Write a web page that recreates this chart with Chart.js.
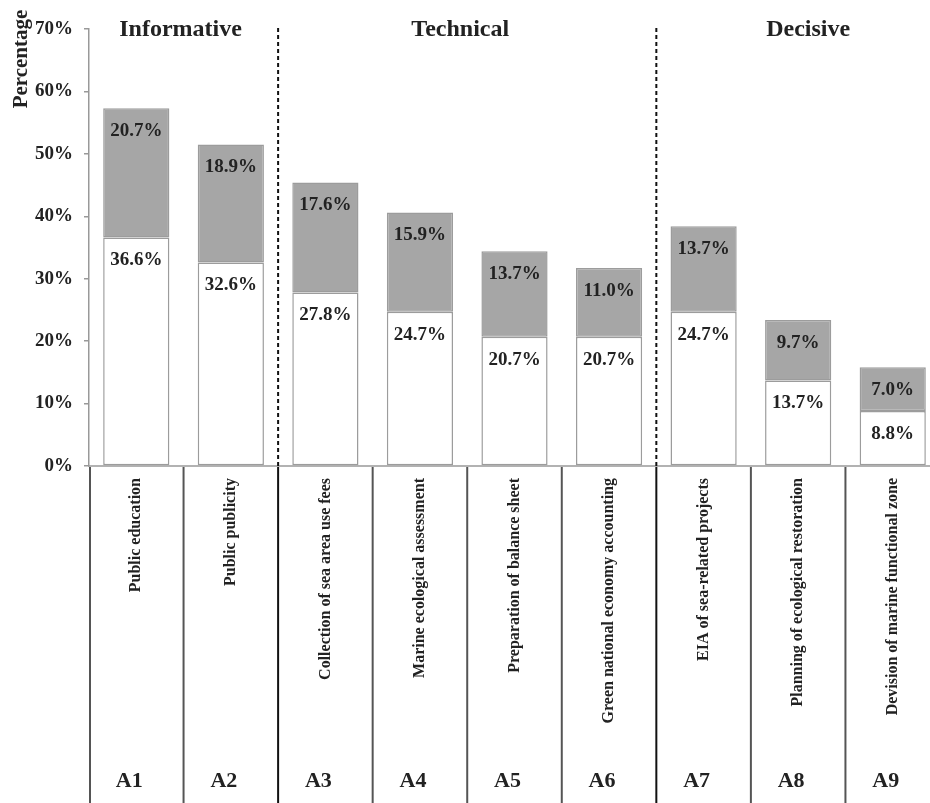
<!DOCTYPE html>
<html>
<head>
<meta charset="utf-8">
<script src="https://cdn.jsdelivr.net/npm/chart.js"></script>
<style>
    html, body { margin: 0; padding: 0; background: #fff; overflow: hidden; }
    #wrap { width: 942px; height: 803px; }
</style>
</head>
<body>
<div id="wrap"><canvas id="chart" width="942" height="803"></canvas></div>
<script>
// Kategorien und Werte (Prozent)
const codes = ['A1', 'A2', 'A3', 'A4', 'A5', 'A6', 'A7', 'A8', 'A9'];
const names = [
    'Public education',
    'Public publicity',
    'Collection of sea area use fees',
    'Marine ecological assessment',
    'Preparation of balance sheet',
    'Green national economy accounting',
    'EIA of sea-related projects',
    'Planning of ecological restoration',
    'Devision of marine functional zone'
];
const lowerValues = [36.6, 32.6, 27.8, 24.7, 20.7, 20.7, 24.7, 13.7, 8.8];
const upperValues = [20.7, 18.9, 17.6, 15.9, 13.7, 11.0, 13.7, 9.7, 7.0];
// Gruppen: Name, erste und letzte Kategorie
const groupNames = ['Informative', 'Technical', 'Decisive'];
const groupStart = [0, 2, 6];
const groupEnd = [1, 5, 8];
const yTicks = [0, 10, 20, 30, 40, 50, 60, 70];

const serif = '"Liberation Serif", "Times New Roman", serif';
const tableBottom = 803;
const groupShift = [-3, -7, 10];

// Beschriftungen, Gruppen, Trennlinien und Tabelle unter der Achse
const extras = {
    id: 'extras',
    afterDatasetsDraw(chart) {
        const ctx = chart.ctx;
        const x = chart.scales.x;
        const area = chart.chartArea;
        ctx.save();

        // Werte in den Balken
        ctx.fillStyle = '#222';
        ctx.font = 'bold 19px ' + serif;
        ctx.textAlign = 'center';
        ctx.textBaseline = 'middle';
        chart.data.datasets.forEach((ds, i) => {
            chart.getDatasetMeta(i).data.forEach((el, j) => {
                const top = Math.min(el.y, el.base);
                ctx.fillText(ds.data[j].toFixed(1) + '%', el.x, top + 23);
            });
        });

        // x-Achse
        ctx.strokeStyle = '#999';
        ctx.lineWidth = 1.5;
        ctx.beginPath();
        ctx.moveTo(area.left - 1, area.bottom);
        ctx.lineTo(chart.width, area.bottom);
        ctx.stroke();

        // Tabellenlinien
        for (let i = 0; i < codes.length; i++) {
            const bx = i === 0 ? area.left + 1 : x.getPixelForValue(i - 0.5);
            const isGroupEdge = groupStart.includes(i) && i > 0;
            ctx.strokeStyle = isGroupEdge ? '#111' : '#555';
            ctx.lineWidth = 2;
            ctx.beginPath();
            ctx.moveTo(bx, area.bottom + 1);
            ctx.lineTo(bx, tableBottom);
            ctx.stroke();
        }

        // gestrichelte Gruppentrenner
        ctx.strokeStyle = '#111';
        ctx.lineWidth = 2;
        ctx.setLineDash([4, 3]);
        for (let g = 1; g < groupStart.length; g++) {
            const bx = x.getPixelForValue(groupStart[g] - 0.5);
            ctx.beginPath();
            ctx.moveTo(bx, area.top - 1);
            ctx.lineTo(bx, area.bottom);
            ctx.stroke();
        }
        ctx.setLineDash([]);

        // Gruppennamen
        ctx.fillStyle = '#222';
        ctx.font = 'bold 24px ' + serif;
        groupNames.forEach((g, i) => {
            const cx = (x.getPixelForValue(groupStart[i] - 0.5) + x.getPixelForValue(groupEnd[i] + 0.5)) / 2;
            ctx.fillText(g, cx + groupShift[i], area.top + 1);
        });

        // senkrechte Namen in der Tabelle
        ctx.font = 'bold 16px ' + serif;
        ctx.textAlign = 'right';
        names.forEach((n, i) => {
            ctx.save();
            ctx.translate(x.getPixelForValue(i), area.bottom + 12);
            ctx.rotate(-Math.PI / 2);
            ctx.fillText(n, 0, 0);
            ctx.restore();
        });

        // Codes A1..A9
        ctx.textAlign = 'center';
        ctx.font = 'bold 22px ' + serif;
        codes.forEach((c, i) => {
            ctx.fillText(c, x.getPixelForValue(i) - 7, 781);
        });

        // Achsentitel
        ctx.font = 'bold 21px ' + serif;
        ctx.save();
        ctx.translate(22, 59);
        ctx.rotate(-Math.PI / 2);
        ctx.fillText('Percentage', 0, 0);
        ctx.restore();

        ctx.restore();
    }
};

const chart = new Chart(document.getElementById('chart'), {
    type: 'bar',
    data: {
        labels: codes,
        datasets: [
            {
                data: lowerValues,
                backgroundColor: '#ffffff',
                borderColor: '#9c9c9c',
                borderWidth: 1.5,
                borderSkipped: false
            },
            {
                data: upperValues,
                backgroundColor: '#a6a6a6',
                borderColor: '#9c9c9c',
                borderWidth: 1.5,
                borderSkipped: false
            }
        ]
    },
    options: {
        responsive: false,
        animation: false,
        layout: { padding: { left: 0, right: 2, top: 29, bottom: 337 } },
        plugins: { legend: { display: false }, tooltip: { enabled: false } },
        datasets: { bar: { barPercentage: 0.7, categoryPercentage: 1 } },
        scales: {
            x: { stacked: true, display: false },
            y: {
                stacked: true,
                min: 0,
                max: 70,
                afterFit: (s) => { s.width = 89; },
                afterBuildTicks: (s) => { s.ticks = yTicks.map(v => ({ value: v })); },
                ticks: {
                    color: '#222',
                    padding: 11,
                    font: { family: serif, size: 19, weight: 'bold' },
                    callback: (v) => v + '%'
                },
                grid: { drawOnChartArea: false, drawTicks: true, tickLength: 5, color: '#999', lineWidth: 1.5 },
                border: { color: '#999', width: 1.5 }
            }
        }
    },
    plugins: [extras]
});
</script>
</body>
</html>
